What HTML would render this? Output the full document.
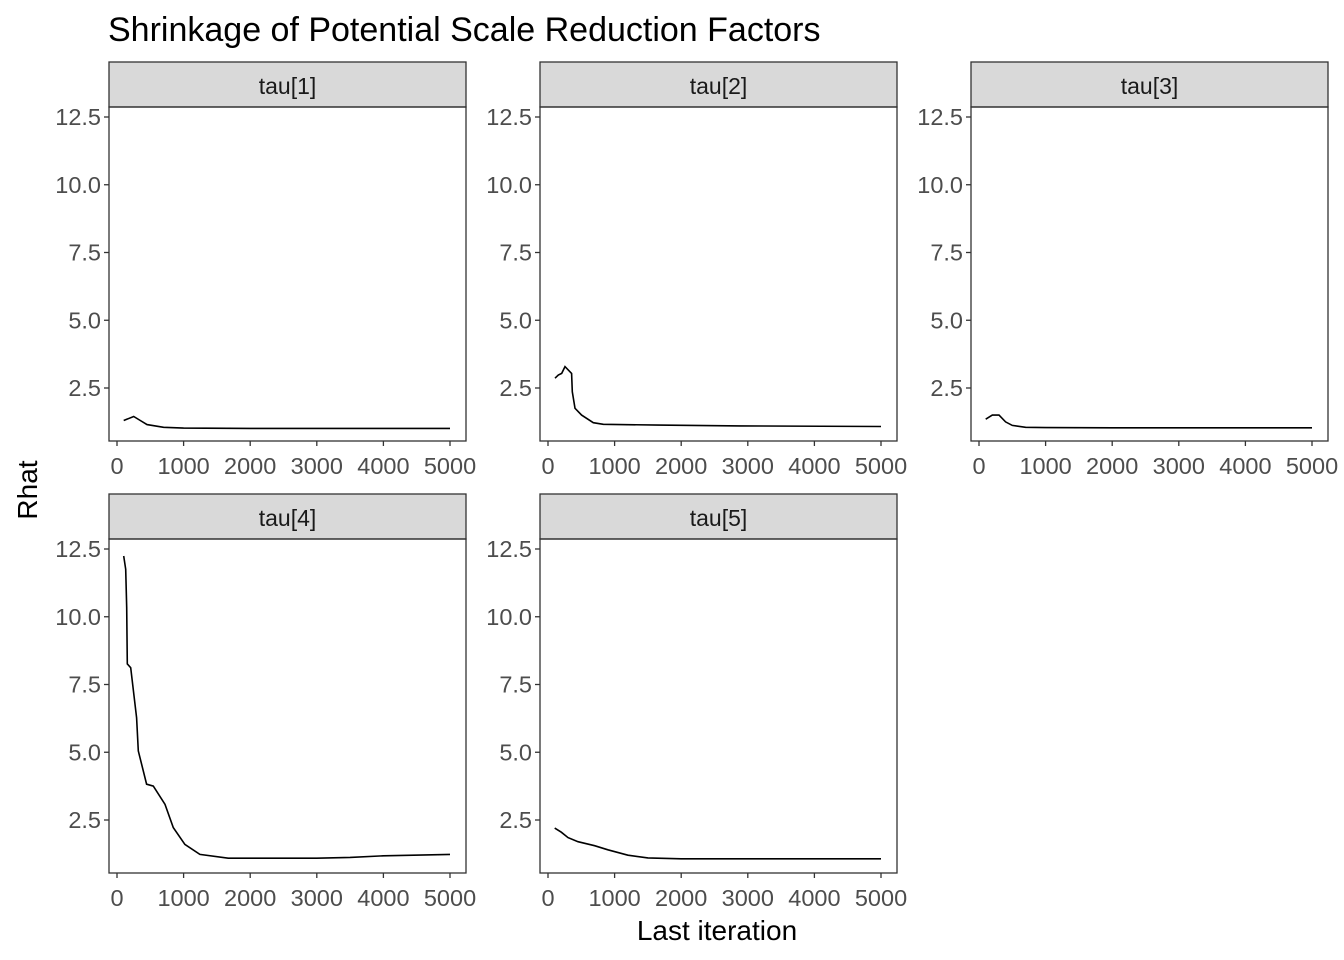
<!DOCTYPE html>
<html><head><meta charset="utf-8"><style>
body{margin:0;background:#fff;}
svg{display:block;font-family:"Liberation Sans",Arial,sans-serif;}
</style></head><body>
<svg id="c" width="1344" height="960" viewBox="0 0 1344 960">
<text x="108" y="41" font-size="34" fill="#000">Shrinkage of Potential Scale Reduction Factors</text>
<text x="717" y="940" font-size="28" text-anchor="middle" fill="#000">Last iteration</text>
<text transform="translate(37,490) rotate(-90)" font-size="28" text-anchor="middle" fill="#000">Rhat</text>
</svg>
<script>
const panelNames = ["tau[1]","tau[2]","tau[3]","tau[4]","tau[5]"];
const xTicks = [0,1000,2000,3000,4000,5000];
const yTicks = [2.5,5.0,7.5,10.0,12.5];
const iters1 = [100,250,350,450,700,1000,2000,3000,4000,5000];
const rhat1 = [1.3,1.45,1.3,1.15,1.05,1.02,1.01,1.01,1.01,1.01];
const iters2 = [105,155,205,255,355,365,405,505,680,830,1655,2880,5000];
const rhat2 = [2.86,2.98,3.04,3.29,3.04,2.36,1.75,1.5,1.22,1.16,1.13,1.1,1.08];
const iters3 = [100,200,300,400,500,700,1000,2000,5000];
const rhat3 = [1.35,1.5,1.5,1.25,1.12,1.05,1.04,1.03,1.03];
const iters4 = [100,130,145,155,205,295,320,445,545,720,845,1020,1245,1670,3000,3500,4000,5000];
const rhat4 = [12.24,11.75,10.33,8.26,8.12,6.27,5.05,3.82,3.75,3.08,2.22,1.6,1.23,1.09,1.09,1.12,1.18,1.23];
const iters5 = [100,200,300,450,700,900,1200,1500,2000,5000];
const rhat5 = [2.2,2.05,1.85,1.7,1.55,1.4,1.2,1.1,1.07,1.07];
const itersAll=[iters1,iters2,iters3,iters4,iters5];
const rhatAll=[rhat1,rhat2,rhat3,rhat4,rhat5];
const svg=document.getElementById('c');
const NS="http://www.w3.org/2000/svg";
function mk(t,a,p){const e=document.createElementNS(NS,t);for(const k in a)e.setAttribute(k,a[k]);(p||svg).appendChild(e);return e;}
const cols=[109,540,971], rows=[62,494];
for(let i=0;i<5;i++){
  const L=cols[i%3], T=rows[Math.floor(i/3)], W=357, stripH=45, PT=T+stripH, PB=T+379;
  const xs=v=>L+8+v*333/5000;
  const ys=v=>PT+10+(12.5-v)*27.1;
  const g=mk('g',{});
  
  
  const strip=mk('rect',{x:L,y:T,width:W,height:stripH,fill:'#d9d9d9',stroke:'#333','stroke-width':1.3},g);
  
  
  const st=mk('text',{x:L+W/2,y:T+32,'font-size':23,'text-anchor':'middle',fill:'#1a1a1a'},g);st.textContent=panelNames[i];
  
  
  const fr=mk('rect',{x:L,y:PT,width:W,height:PB-PT,fill:'none',stroke:'#333','stroke-width':1.3},g);
  
  
  yTicks.forEach(v=>{const y=ys(v);mk('line',{x1:L-5,x2:L,y1:y,y2:y,stroke:'#333','stroke-width':1.3},g);
    const t=mk('text',{x:L-8,y:y+8,'font-size':23.5,'text-anchor':'end',fill:'#4d4d4d'},g);t.textContent=v.toFixed(1);
    
    });
  xTicks.forEach(v=>{const x=xs(v);mk('line',{x1:x,x2:x,y1:PB,y2:PB+5,stroke:'#333','stroke-width':1.3},g);
    const t=mk('text',{x:x,y:PB+33,'font-size':23.5,'text-anchor':'middle',fill:'#4d4d4d'},g);t.textContent=v;
    
    });
  const pts=itersAll[i].map((v,j)=>xs(v).toFixed(1)+','+ys(rhatAll[i][j]).toFixed(1)).join(' ');
  const pl=mk('polyline',{points:pts,fill:'none',stroke:'#000','stroke-width':1.6},g);
  
  
}
</script>
</body></html>
